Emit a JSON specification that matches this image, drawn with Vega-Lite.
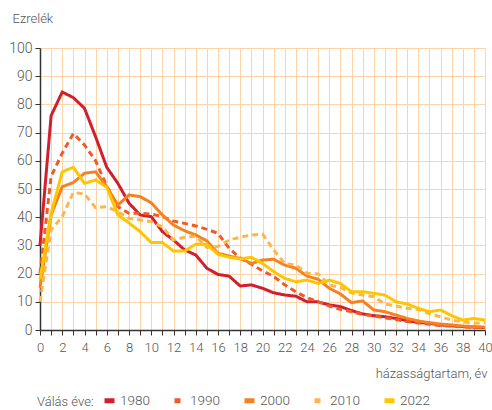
{
  "$schema": "https://vega.github.io/schema/vega-lite/v6.json",
  "width": 445,
  "height": 282,
  "autosize": {"type": "none"},
  "padding": {"left": 40, "top": 48, "right": 7, "bottom": 80},
  "background": "white",
  "config": {
    "font": "Roboto",
    "view": {"stroke": null},
    "axis": {"labelFont": "Roboto", "titleFont": "Roboto", "labelColor": "#555555", "titleColor": "#555555", "titleFontWeight": 300, "labelFontWeight": 300},
    "legend": {"labelFont": "Roboto", "titleFont": "Roboto", "labelFontWeight": 300}
  },
  "data": {"values": [
    {"s":"1980","t":0,"v":30},{"s":"1980","t":1,"v":76},{"s":"1980","t":2,"v":84.4},{"s":"1980","t":3,"v":82.4},{"s":"1980","t":4,"v":78.6},{"s":"1980","t":5,"v":68.5},{"s":"1980","t":6,"v":57.7},{"s":"1980","t":7,"v":52},{"s":"1980","t":8,"v":45},{"s":"1980","t":9,"v":40.8},{"s":"1980","t":10,"v":40.2},{"s":"1980","t":11,"v":34.9},{"s":"1980","t":12,"v":31.9},{"s":"1980","t":13,"v":28.4},{"s":"1980","t":14,"v":26.6},{"s":"1980","t":15,"v":21.9},{"s":"1980","t":16,"v":19.7},{"s":"1980","t":17,"v":19.1},{"s":"1980","t":18,"v":15.6},{"s":"1980","t":19,"v":16},{"s":"1980","t":20,"v":14.8},{"s":"1980","t":21,"v":13.2},{"s":"1980","t":22,"v":12.4},{"s":"1980","t":23,"v":12},{"s":"1980","t":24,"v":10},{"s":"1980","t":25,"v":10},{"s":"1980","t":26,"v":8.9},{"s":"1980","t":27,"v":8.3},{"s":"1980","t":28,"v":6.9},{"s":"1980","t":29,"v":5.7},{"s":"1980","t":30,"v":5.1},{"s":"1980","t":31,"v":4.7},{"s":"1980","t":32,"v":4.1},{"s":"1980","t":33,"v":3.3},{"s":"1980","t":34,"v":2.7},{"s":"1980","t":35,"v":2.4},{"s":"1980","t":36,"v":1.8},{"s":"1980","t":37,"v":1.5},{"s":"1980","t":38,"v":1.2},{"s":"1980","t":39,"v":1},{"s":"1980","t":40,"v":0.9},
    {"s":"1990","t":0,"v":20},{"s":"1990","t":1,"v":54.5},{"s":"1990","t":2,"v":62.7},{"s":"1990","t":3,"v":69.7},{"s":"1990","t":4,"v":65.6},{"s":"1990","t":5,"v":60},{"s":"1990","t":6,"v":51},{"s":"1990","t":7,"v":43.7},{"s":"1990","t":8,"v":41.4},{"s":"1990","t":9,"v":41.4},{"s":"1990","t":10,"v":41.1},{"s":"1990","t":11,"v":40.2},{"s":"1990","t":12,"v":38.6},{"s":"1990","t":13,"v":37.8},{"s":"1990","t":14,"v":36.9},{"s":"1990","t":15,"v":35.7},{"s":"1990","t":16,"v":34.3},{"s":"1990","t":17,"v":29},{"s":"1990","t":18,"v":25.5},{"s":"1990","t":19,"v":23.3},{"s":"1990","t":20,"v":21},{"s":"1990","t":21,"v":19},{"s":"1990","t":22,"v":16},{"s":"1990","t":23,"v":13.5},{"s":"1990","t":24,"v":11.5},{"s":"1990","t":25,"v":10},{"s":"1990","t":26,"v":8.5},{"s":"1990","t":27,"v":7.3},{"s":"1990","t":28,"v":6.5},{"s":"1990","t":29,"v":5.5},{"s":"1990","t":30,"v":5},{"s":"1990","t":31,"v":4.3},{"s":"1990","t":32,"v":3.7},{"s":"1990","t":33,"v":3},{"s":"1990","t":34,"v":2.5},{"s":"1990","t":35,"v":2},{"s":"1990","t":36,"v":1.6},{"s":"1990","t":37,"v":1.3},{"s":"1990","t":38,"v":1.1},{"s":"1990","t":39,"v":0.9},{"s":"1990","t":40,"v":0.8},
    {"s":"2000","t":0,"v":15},{"s":"2000","t":1,"v":40.8},{"s":"2000","t":2,"v":50.8},{"s":"2000","t":3,"v":52.3},{"s":"2000","t":4,"v":55.6},{"s":"2000","t":5,"v":56.1},{"s":"2000","t":6,"v":50.8},{"s":"2000","t":7,"v":44.3},{"s":"2000","t":8,"v":47.9},{"s":"2000","t":9,"v":47.3},{"s":"2000","t":10,"v":45.1},{"s":"2000","t":11,"v":40.8},{"s":"2000","t":12,"v":37.2},{"s":"2000","t":13,"v":35.2},{"s":"2000","t":14,"v":33.7},{"s":"2000","t":15,"v":31.6},{"s":"2000","t":16,"v":27.2},{"s":"2000","t":17,"v":26.2},{"s":"2000","t":18,"v":25.4},{"s":"2000","t":19,"v":23.6},{"s":"2000","t":20,"v":24.8},{"s":"2000","t":21,"v":25.1},{"s":"2000","t":22,"v":23},{"s":"2000","t":23,"v":21.9},{"s":"2000","t":24,"v":19.1},{"s":"2000","t":25,"v":18},{"s":"2000","t":26,"v":14.8},{"s":"2000","t":27,"v":12.8},{"s":"2000","t":28,"v":9.7},{"s":"2000","t":29,"v":10.3},{"s":"2000","t":30,"v":7.1},{"s":"2000","t":31,"v":6.5},{"s":"2000","t":32,"v":5.3},{"s":"2000","t":33,"v":4.1},{"s":"2000","t":34,"v":3.2},{"s":"2000","t":35,"v":2.6},{"s":"2000","t":36,"v":2.1},{"s":"2000","t":37,"v":1.8},{"s":"2000","t":38,"v":1.4},{"s":"2000","t":39,"v":1.2},{"s":"2000","t":40,"v":1},
    {"s":"2010","t":0,"v":10},{"s":"2010","t":1,"v":35.5},{"s":"2010","t":2,"v":40.2},{"s":"2010","t":3,"v":48.8},{"s":"2010","t":4,"v":48.2},{"s":"2010","t":5,"v":43.4},{"s":"2010","t":6,"v":43.7},{"s":"2010","t":7,"v":42},{"s":"2010","t":8,"v":39.6},{"s":"2010","t":9,"v":39},{"s":"2010","t":10,"v":38.4},{"s":"2010","t":11,"v":36.6},{"s":"2010","t":12,"v":31.9},{"s":"2010","t":13,"v":32.9},{"s":"2010","t":14,"v":33.3},{"s":"2010","t":15,"v":29.3},{"s":"2010","t":16,"v":29.6},{"s":"2010","t":17,"v":31.9},{"s":"2010","t":18,"v":32.9},{"s":"2010","t":19,"v":33.7},{"s":"2010","t":20,"v":34},{"s":"2010","t":21,"v":28.4},{"s":"2010","t":22,"v":23.6},{"s":"2010","t":23,"v":23},{"s":"2010","t":24,"v":20.1},{"s":"2010","t":25,"v":19.9},{"s":"2010","t":26,"v":16},{"s":"2010","t":27,"v":15.1},{"s":"2010","t":28,"v":13.2},{"s":"2010","t":29,"v":12.4},{"s":"2010","t":30,"v":11.8},{"s":"2010","t":31,"v":9.2},{"s":"2010","t":32,"v":8.5},{"s":"2010","t":33,"v":7.7},{"s":"2010","t":34,"v":7.3},{"s":"2010","t":35,"v":5.7},{"s":"2010","t":36,"v":4.7},{"s":"2010","t":37,"v":3.5},{"s":"2010","t":38,"v":2.9},{"s":"2010","t":39,"v":2.4},{"s":"2010","t":40,"v":2.6},
    {"s":"2022","t":0,"v":18},{"s":"2022","t":1,"v":41.4},{"s":"2022","t":2,"v":56.1},{"s":"2022","t":3,"v":57.7},{"s":"2022","t":4,"v":52},{"s":"2022","t":5,"v":53.2},{"s":"2022","t":6,"v":50.6},{"s":"2022","t":7,"v":40.8},{"s":"2022","t":8,"v":38},{"s":"2022","t":9,"v":34.9},{"s":"2022","t":10,"v":31},{"s":"2022","t":11,"v":31},{"s":"2022","t":12,"v":28},{"s":"2022","t":13,"v":28},{"s":"2022","t":14,"v":30.4},{"s":"2022","t":15,"v":30.4},{"s":"2022","t":16,"v":26.8},{"s":"2022","t":17,"v":25.8},{"s":"2022","t":18,"v":25.2},{"s":"2022","t":19,"v":25.8},{"s":"2022","t":20,"v":23.6},{"s":"2022","t":21,"v":20.7},{"s":"2022","t":22,"v":18.3},{"s":"2022","t":23,"v":17.1},{"s":"2022","t":24,"v":17.7},{"s":"2022","t":25,"v":16.5},{"s":"2022","t":26,"v":17.7},{"s":"2022","t":27,"v":16.5},{"s":"2022","t":28,"v":13.6},{"s":"2022","t":29,"v":13.6},{"s":"2022","t":30,"v":13},{"s":"2022","t":31,"v":12.4},{"s":"2022","t":32,"v":10},{"s":"2022","t":33,"v":9.2},{"s":"2022","t":34,"v":7.7},{"s":"2022","t":35,"v":6.5},{"s":"2022","t":36,"v":7.1},{"s":"2022","t":37,"v":5.1},{"s":"2022","t":38,"v":3.5},{"s":"2022","t":39,"v":4.1},{"s":"2022","t":40,"v":3.5}
  ]},
  "mark": {"type": "line", "strokeWidth": 3, "strokeJoin": "miter"},
  "encoding": {
    "x": {
      "field": "t", "type": "quantitative",
      "scale": {"domain": [0, 40], "nice": false, "zero": false},
      "axis": {
        "values": [0,1,2,3,4,5,6,7,8,9,10,11,12,13,14,15,16,17,18,19,20,21,22,23,24,25,26,27,28,29,30,31,32,33,34,35,36,37,38,39,40],
        "labelExpr": "datum.value % 2 == 0 ? datum.label : ''",
        "grid": true, "gridColor": "#fdd3a8", "gridWidth": 1,
        "domainColor": "#333333", "domainWidth": 1.5,
        "tickColor": "#333333", "tickSize": 5, "tickWidth": 1,
        "labelFontSize": 13, "labelPadding": 6, "labelFlush": false, "labelOverlap": false,
        "title": "házasságtartam, év", "titleFontSize": 13, "titleAlign": "right", "titleAnchor": "end", "titleX": 447, "titleY": 43, "titleBaseline": "middle"
      }
    },
    "y": {
      "field": "v", "type": "quantitative",
      "scale": {"domain": [0, 100], "nice": false},
      "axis": {
        "values": [0,10,20,30,40,50,60,70,80,90,100],
        "grid": true, "gridColor": "#fdd3a8", "gridWidth": 1,
        "domainColor": "#333333", "domainWidth": 1.5,
        "tickColor": "#333333", "tickSize": 5, "tickWidth": 1,
        "labelFontSize": 14, "labelPadding": 3,
        "title": "Ezrelék", "titleFontSize": 13, "titleAngle": 0, "titleAlign": "left", "titleBaseline": "middle", "titleX": -28, "titleY": -30
      }
    },
    "color": {
      "field": "s", "type": "nominal",
      "scale": {"domain": ["1980","1990","2000","2010","2022"], "range": ["#d0202e","#f05a28","#f58220","#fdb54e","#ffc600"]},
      "legend": {
        "title": "Válás éve:", "orient": "none", "legendX": -3, "legendY": 345, "direction": "horizontal",
        "titleOrient": "left", "titleFontSize": 13, "titleFontWeight": 300, "titleColor": "#555555", "titlePadding": 8,
        "labelFontSize": 13.5, "labelColor": "#555555", "labelOffset": 3, "labelLimit": 80,
        "symbolType": "stroke", "symbolStrokeWidth": 5, "symbolSize": 100, "columnPadding": 14
      }
    },
    "strokeDash": {
      "field": "s", "type": "nominal",
      "scale": {"domain": ["1980","1990","2000","2010","2022"], "range": [[1,0],[6,4],[1,0],[6,4],[1,0]]},
      "legend": {
        "title": "Válás éve:", "orient": "none", "legendX": -3, "legendY": 345, "direction": "horizontal",
        "titleOrient": "left", "titleFontSize": 13, "titleFontWeight": 300, "titleColor": "#555555", "titlePadding": 8,
        "labelFontSize": 13.5, "labelColor": "#555555", "labelOffset": 3, "labelLimit": 80,
        "symbolType": "stroke", "symbolStrokeWidth": 5, "symbolSize": 100, "columnPadding": 14
      }
    }
  }
}
